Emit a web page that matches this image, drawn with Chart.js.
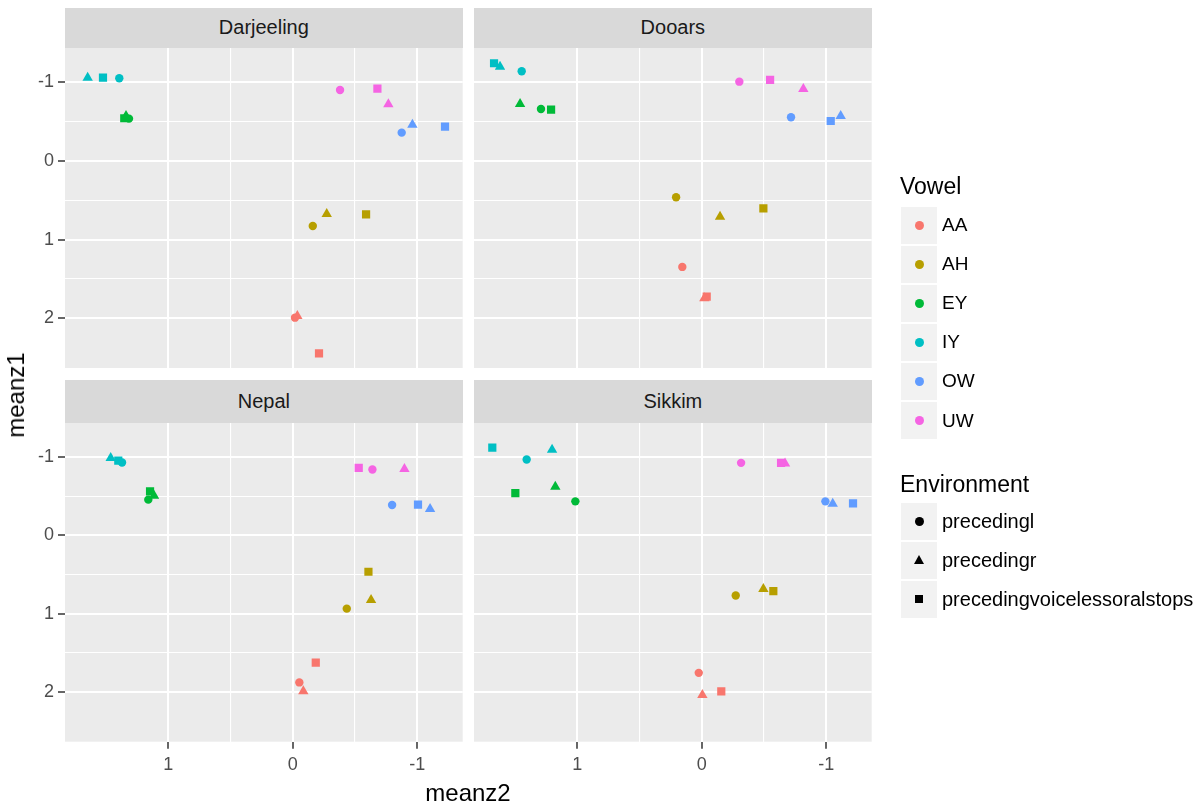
<!DOCTYPE html>
<html>
<head>
<meta charset="utf-8">
<script src="https://cdn.jsdelivr.net/npm/chart.js@4"></script>
<style>
body{margin:0;background:#fff;font-family:"Liberation Sans",Arial,sans-serif;}
#page{position:relative;width:1202px;height:805px;overflow:hidden;}
canvas{position:absolute;left:0;top:0;}
.strip{position:absolute;background:#D9D9D9;color:#1A1A1A;font-size:20px;display:flex;align-items:center;justify-content:center;}
.txt{position:absolute;white-space:nowrap;color:#000;}
.key{position:absolute;background:#F2F2F2;width:36px;height:37px;}
.dot{position:absolute;border-radius:50%;width:9px;height:9px;left:14px;top:14px;}
.sq{position:absolute;width:8px;height:8px;left:14px;top:14.5px;background:#000;}
.tri{position:absolute;width:0;height:0;left:13px;top:13px;border-left:5px solid transparent;border-right:5px solid transparent;border-bottom:9px solid #000;}
</style>
</head>
<body>
<div id="page">
<canvas id="c0" width="1202" height="805"></canvas>
<canvas id="c1" width="1202" height="805"></canvas>
<canvas id="c2" width="1202" height="805"></canvas>
<canvas id="c3" width="1202" height="805"></canvas>
</div>
<script>

/* DATA */

const regions=["Darjeeling","Dooars","Nepal","Sikkim"]
const vowels=["AA","AH","EY","IY","OW","UW"]
const environments=["precedingl","precedingr","precedingvoicelessoralstops"]

// order: vowel by vowel, each with precedingl, precedingr, precedingvoicelessoralstops
const darjeelingZ2=[-0.018,-0.037,-0.211, -0.161,-0.273,-0.589, 1.315,1.339,1.353, 1.393,1.647,1.524, -0.875,-0.961,-1.223, -0.380,-0.768,-0.680]
const darjeelingZ1=[1.992,1.970,2.445, 0.826,0.674,0.678, -0.538,-0.572,-0.543, -1.051,-1.059,-1.059, -0.360,-0.461,-0.436, -0.902,-0.720,-0.919]

const dooarsZ2=[0.156,-0.021,-0.040, 0.206,-0.147,-0.495, 1.291,1.459,1.210, 1.446,1.620,1.668, -0.717,-1.116,-1.036, -0.302,-0.816,-0.549]
const dooarsZ1=[1.347,1.746,1.725, 0.462,0.708,0.602, -0.661,-0.725,-0.652, -1.140,-1.199,-1.242, -0.555,-0.572,-0.508, -1.008,-0.915,-1.030]

const nepalZ2=[-0.053,-0.085,-0.185, -0.434,-0.629,-0.608, 1.160,1.114,1.146, 1.371,1.462,1.401, -0.798,-1.103,-1.006, -0.640,-0.897,-0.530]
const nepalZ1=[1.876,1.989,1.624, 0.935,0.826,0.465, -0.455,-0.505,-0.559, -0.928,-0.987,-0.953, -0.387,-0.336,-0.392, -0.840,-0.845,-0.861]

const sikkimZ2=[0.024,-0.005,-0.157, -0.273,-0.495,-0.575, 1.015,1.176,1.497, 1.406,1.202,1.682, -0.993,-1.052,-1.215, -0.316,-0.669,-0.637]
const sikkimZ1=[1.754,2.035,1.989, 0.767,0.684,0.713, -0.433,-0.618,-0.538, -0.966,-1.092,-1.117, -0.433,-0.404,-0.408, -0.924,-0.916,-0.924]

const xTicks=[1,0.5,0,-0.5,-1]
const yTicks=[-1,-0.5,0,0.5,1,1.5,2]

const vowelColors=["#F8766D","#B79F00","#00BA38","#00BFC4","#619CFF","#F564E3"]
const envStyles=["circle","triangle","rect"]
const envRadius=[4.2,6,5.8]

const regionData=[[darjeelingZ2,darjeelingZ1],[dooarsZ2,dooarsZ1],[nepalZ2,nepalZ1],[sikkimZ2,sikkimZ1]]


/* PANEL LAYOUT */

const W=1202, H=805
const panels=[
{l:65,t:48,r:462.7,b:368,left:true,bottom:false},
{l:474,t:48,r:871.7,b:368,left:false,bottom:false},
{l:65,t:422.7,r:462.7,b:741.7,left:true,bottom:true},
{l:474,t:422.7,r:871.7,b:741.7,left:false,bottom:true}
]

const page=document.getElementById("page")

function addDiv(cls,style,text){
const d=document.createElement("div")
d.className=cls
Object.assign(d.style,style)
if(text!==undefined) d.textContent=text
page.appendChild(d)
return d
}


/* PANEL BACKGROUND */

const panelBg={
id:"panelBg",
beforeDraw(chart){
const a=chart.chartArea, c=chart.ctx
c.save()
c.fillStyle="#EBEBEB"
c.fillRect(a.left,a.top,a.right-a.left,a.bottom-a.top)
c.restore()
}
}


function makeDatasets(z2,z1){
return vowels.map((v,i)=>({
label:v,
data:environments.map((e,j)=>({x:z2[i*3+j],y:z1[i*3+j]})),
showLine:false,
pointBackgroundColor:vowelColors[i],
pointBorderWidth:0,
pointStyle:envStyles,
pointRadius:envRadius,
pointHoverRadius:envRadius
}))
}


function isMajor(v){return Math.abs(v-Math.round(v))<1e-6}


regions.forEach((name,k)=>{

const p=panels[k]
const yw=p.left?65:0
const xh=p.bottom?(H-p.b):0

new Chart(document.getElementById("c"+k),{
type:"scatter",
data:{datasets:makeDatasets(regionData[k][0],regionData[k][1])},
options:{
responsive:false,
animation:false,
events:[],
layout:{padding:{left:p.l-yw,top:p.t,right:W-p.r,bottom:H-p.b-xh}},
plugins:{legend:{display:false},tooltip:{enabled:false}},
scales:{
x:{
type:"linear",
reverse:true,
min:-1.365,max:1.829,
afterBuildTicks(s){s.ticks=xTicks.map(v=>({value:v}))},
afterFit(s){s.height=xh},
border:{display:false},
grid:{
color:"#FFFFFF",
lineWidth:c=>isMajor(c.tick.value)?2:1.1,
drawTicks:p.bottom,
tickLength:7,
tickWidth:1.5,
tickColor:c=>isMajor(c.tick.value)?"#333333":"rgba(0,0,0,0)"
},
ticks:{
display:p.bottom,
autoSkip:false,
maxRotation:0,
padding:6,
color:"#4D4D4D",
font:{family:"Liberation Sans",size:18},
callback:v=>isMajor(v)?String(v):""
}
},
y:{
type:"linear",
reverse:true,
min:-1.436,max:2.632,
afterBuildTicks(s){s.ticks=yTicks.map(v=>({value:v}))},
afterFit(s){s.width=yw},
border:{display:false},
grid:{
color:"#FFFFFF",
lineWidth:c=>isMajor(c.tick.value)?2:1.1,
drawTicks:p.left,
tickLength:7,
tickWidth:1.5,
tickColor:c=>isMajor(c.tick.value)?"#333333":"rgba(0,0,0,0)"
},
ticks:{
display:p.left,
autoSkip:false,
padding:4,
color:"#4D4D4D",
font:{family:"Liberation Sans",size:18},
callback:v=>isMajor(v)?String(v):""
}
}
}
},
plugins:[panelBg]
})

/* STRIP */

const st=p.bottom?380:7.5
addDiv("strip",{left:p.l+"px",top:st+"px",width:(p.r-p.l)+"px",height:(p.t-st)+"px"},name)

})


/* AXIS TITLES */

addDiv("txt",{left:"468px",top:"793px",fontSize:"24px",transform:"translate(-50%,-50%)"},"meanz2")
addDiv("txt",{left:"16px",top:"395px",fontSize:"24px",transform:"translate(-50%,-50%) rotate(-90deg)"},"meanz1")


/* LEGENDS */

addDiv("txt",{left:"900px",top:"186px",fontSize:"23px",transform:"translateY(-50%)"},"Vowel")

vowels.forEach((v,i)=>{
const cy=225+i*39.1
const k=addDiv("key",{left:"901px",top:(cy-18.5)+"px"})
const d=document.createElement("div")
d.className="dot"
d.style.background=vowelColors[i]
k.appendChild(d)
addDiv("txt",{left:"942px",top:cy+"px",fontSize:"19px",transform:"translateY(-50%)"},v)
})

addDiv("txt",{left:"900px",top:"484px",fontSize:"23px",transform:"translateY(-50%)"},"Environment")

const envKeyCls=["dot","tri","sq"]
environments.forEach((e,i)=>{
const cy=521+i*39.2
const k=addDiv("key",{left:"901px",top:(cy-18.5)+"px"})
const d=document.createElement("div")
d.className=envKeyCls[i]
if(i==0) d.style.background="#000"
k.appendChild(d)
addDiv("txt",{left:"942px",top:cy+"px",fontSize:"20px",transform:"translateY(-50%)"},e)
})

</script>
</body>
</html>
